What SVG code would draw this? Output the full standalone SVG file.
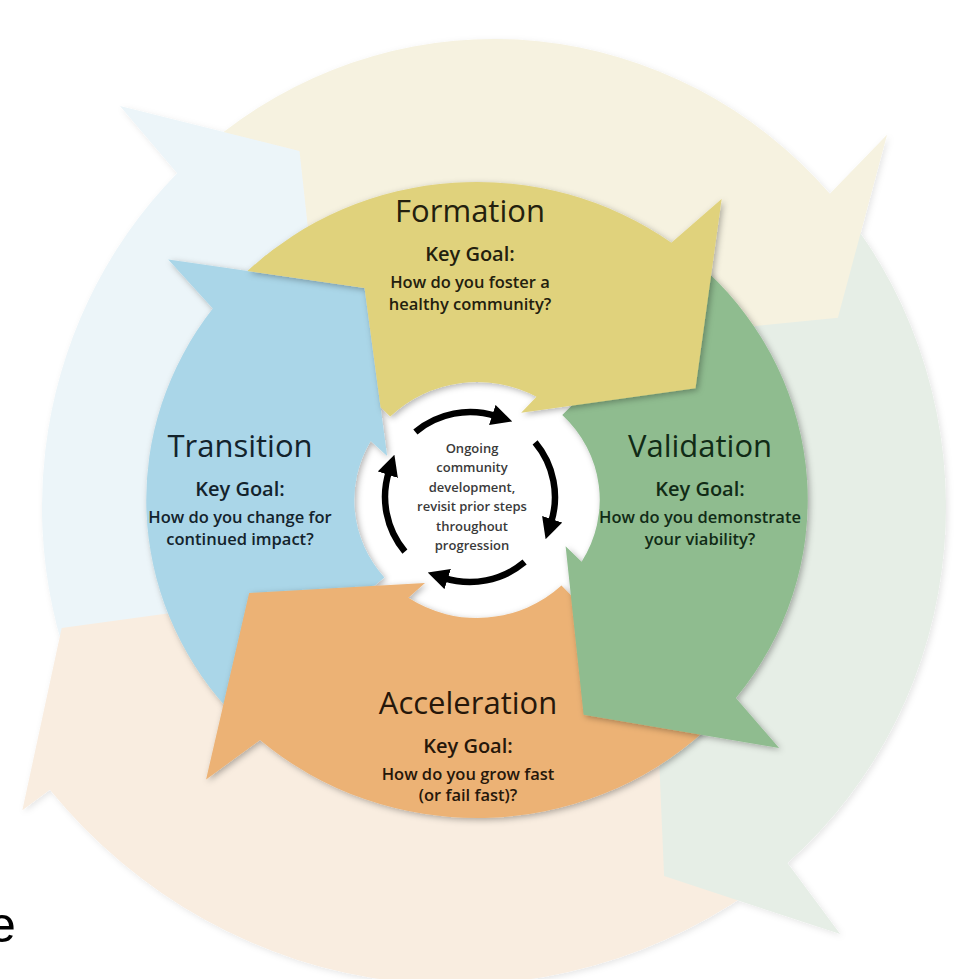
<svg xmlns="http://www.w3.org/2000/svg" width="956" height="979" viewBox="0 0 956 979">
<style>
.title{font-family:"Open Sans","Liberation Sans",sans-serif;font-size:31px;font-weight:500;text-anchor:middle}
.goal{font-family:"Open Sans","Liberation Sans",sans-serif;font-size:20px;font-weight:600;text-anchor:middle}
.q{font-family:"Open Sans","Liberation Sans",sans-serif;font-size:16.5px;font-weight:600;text-anchor:middle}
.c{font-family:"Open Sans","Liberation Sans",sans-serif;font-size:13px;font-weight:600;text-anchor:middle;fill:#3a3a3a}
.arc{fill:none;stroke:#000;stroke-width:6.5;marker-end:url(#ah)}
</style>
<defs>
<filter id="sh" x="-20%" y="-20%" width="140%" height="140%"><feDropShadow dx="2" dy="2" stdDeviation="3" flood-color="#000" flood-opacity="0.3"/></filter>
<filter id="shp" x="-20%" y="-20%" width="140%" height="140%"><feDropShadow dx="2" dy="2" stdDeviation="3" flood-color="#000" flood-opacity="0.1"/></filter>
<marker id="ah" viewBox="0 0 10 10" refX="2" refY="5" markerWidth="21" markerHeight="21" markerUnits="userSpaceOnUse" orient="auto"><path d="M0,0 L10,5 L0,10 Z" fill="#000"/></marker>
</defs>
<rect width="956" height="979" fill="#fff"/>
<g id="outer-ring" transform="translate(494,507) scale(0.9826,1.0174)" filter="url(#shp)">
<path id="pale-transition" fill="#ecf5f9" d="M-392.2,240.4 A460,460 0 0 1 -322.4,-328.1 L-380.7,-394.2 L-197.9,-349.9 L-179.2,-185.6 L-189.2,-192.6 A270,270 0 0 0 -230.2,141.1 Z"/>
<path id="pale-acceleration" fill="#f9ede0" d="M283.2,362.5 A540,540 0 0 1 -452,278 L-480,298 L-440,119 L-260,95 L-247.3,108.4 A270,270 0 0 0 166.2,212.8 Z"/>
<path id="pale-validation" fill="#e6eee6" d="M354.9,-292.6 A460,460 0 0 1 298.7,349.8 L352.3,419.8 L173.1,362.8 L165.8,197.6 L175.3,205.3 A270,270 0 0 0 208.3,-171.7 Z"/>
<path id="pale-formation" fill="#f6f2e0" d="M-275.2,-368.6 A460,460 0 0 1 341.8,-307.8 L400,-366 L350,-186 L193.2,-170.9 L200.6,-180.7 A270,270 0 0 0 -187.6,-194.2 L-179.2,-185.6 L-197.9,-349.9 Z"/>
</g>
<g id="transition">
<path fill="#aad6e8" filter="url(#sh)" transform="translate(477,500) scale(1.04,1)" d="M-240,208.6 A318,318 0 0 1 -254,-191.4 L-296.9,-240.4 L-108.1,-212.1 L-86.4,-44 L-102.2,-59 A118,118 0 0 0 -89.1,77.4 Z"/>
<g fill="#13232c">
<text class="title" x="240" y="457">Transition</text>
<text class="goal" x="240" y="496">Key Goal:</text>
<text class="q" x="240" y="523">How do you change for</text>
<text class="q" x="240" y="545">continued impact?</text>
</g>
</g>
<g id="acceleration">
<path fill="#ecb275" filter="url(#sh)" transform="translate(477,500) scale(1.04,1)" d="M218.9,230.7 A318,318 0 0 1 -208.6,240 L-260.5,279.4 L-219.1,93 L-50,83.1 L-66,97.8 A118,118 0 0 0 81.2,85.6 Z"/>
<g fill="#26170a">
<text class="title" x="468" y="714">Acceleration</text>
<text class="goal" x="468" y="753">Key Goal:</text>
<text class="q" x="468" y="780">How do you grow fast</text>
<text class="q" x="468" y="801">(or fail fast)?</text>
</g>
</g>
<g id="validation">
<path fill="#8fbc8f" filter="url(#sh)" transform="translate(477,500) scale(1.04,1)" d="M220.9,-228.7 A318,318 0 0 1 248.9,198 L290.5,248.1 L102.5,214.8 L85.2,46.3 L100.6,61.7 A118,118 0 0 0 82,-84.9 Z"/>
<g fill="#112b16">
<text class="title" x="700" y="457">Validation</text>
<text class="goal" x="700" y="496">Key Goal:</text>
<text class="q" x="700" y="523">How do you demonstrate</text>
<text class="q" x="700" y="545">your viability?</text>
</g>
</g>
<g id="formation">
<path fill="#e0d27c" filter="url(#sh)" transform="translate(477,500) scale(1.04,1)" d="M-220.7,-229 A318,318 0 0 1 186.9,-257.3 L235.2,-301 L210.1,-111.7 L42.5,-87.2 L57.2,-103.2 A118,118 0 0 0 -83.4,-83.4 L-92.7,-92.7 L-108.1,-212.1 Z"/>
<g fill="#23200e">
<text class="title" x="470" y="222">Formation</text>
<text class="goal" x="470" y="261">Key Goal:</text>
<text class="q" x="470" y="288">How do you foster a</text>
<text class="q" x="470" y="310">healthy community?</text>
</g>
</g>
<g id="center-cycle">
<g id="cycle-arrows">
<path class="arc" d="M415.4,431.9 A85,85 0 0 1 496.3,416.2"/>
<path class="arc" d="M535.1,442.4 A85,85 0 0 1 550.8,523.3"/>
<path class="arc" d="M524.6,562.1 A85,85 0 0 1 443.7,577.8"/>
<path class="arc" d="M404.9,551.6 A85,85 0 0 1 389.2,470.7"/>
</g>
<text class="c" x="472" y="453">Ongoing</text>
<text class="c" x="472" y="472">community</text>
<text class="c" x="472" y="492">development,</text>
<text class="c" x="472" y="511">revisit prior steps</text>
<text class="c" x="472" y="531">throughout</text>
<text class="c" x="472" y="550">progression</text>
</g>
<text x="-12" y="942" font-family="Liberation Sans, Arial, sans-serif" font-size="50" fill="#000">e</text>
</svg>
